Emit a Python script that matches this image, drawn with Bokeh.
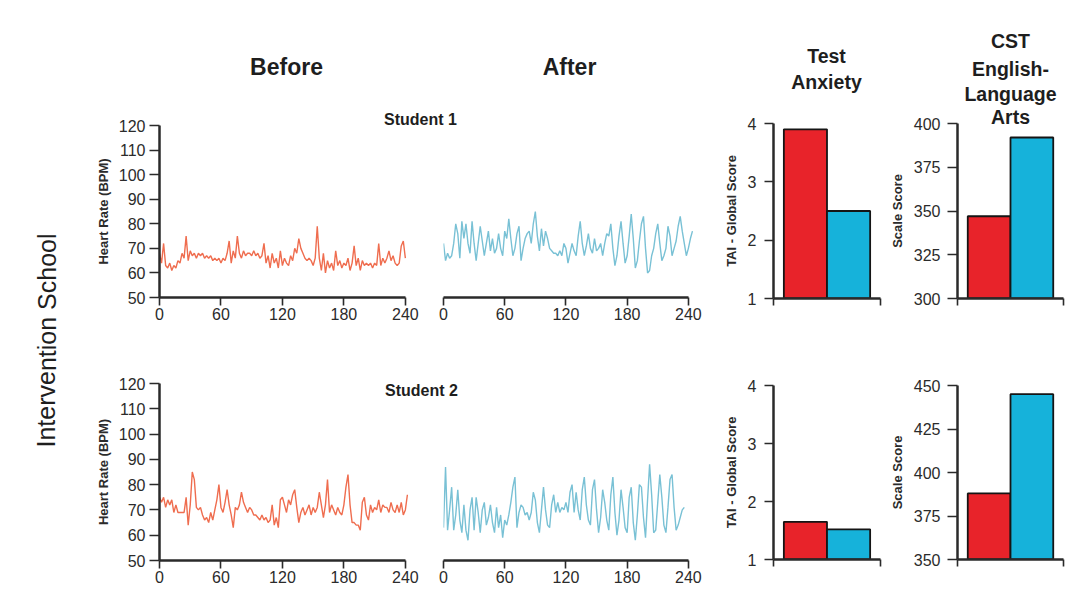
from bokeh.plotting import figure
from bokeh.models import Range1d, FixedTicker, Label, GridBox, Spacer
from bokeh.embed import file_html
from bokeh.resources import INLINE

FONT = "Liberation Sans"
TXT = "#1e1e1e"
AXC = "#2a2a2a"

# ---------------- data ----------------
sample_step = 2  # seconds between readings
x_ticks = [0, 60, 120, 180, 240]
hr_ticks = [50, 60, 70, 80, 90, 100, 110, 120]

before1 = [68, 64, 72, 63, 62, 64, 61, 63, 62, 65, 64, 68, 66, 75, 65, 69, 67, 68, 66, 68,
           67, 68, 66, 67, 66, 67, 65, 66, 65, 66, 64, 66, 65, 68, 73, 64, 69, 66, 75, 68,
           66, 69, 67, 68, 68, 67, 69, 67, 68, 66, 67, 72, 64, 67, 62, 68, 64, 66, 62, 69,
           63, 66, 64, 63, 67, 65, 70, 68, 74, 70, 68, 66, 65, 66, 65, 63, 66, 79, 66, 61,
           68, 60, 65, 62, 64, 61, 69, 63, 65, 62, 64, 63, 66, 61, 64, 71, 63, 66, 61, 65,
           63, 64, 63, 64, 62, 64, 63, 72, 63, 66, 64, 66, 69, 65, 67, 64, 63, 64, 71, 73,
           66]
after1 = [72, 65, 68, 66, 67, 72, 80, 76, 66, 81, 74, 80, 72, 68, 81, 72, 65, 72, 79, 73,
          67, 72, 77, 69, 74, 68, 70, 76, 70, 67, 77, 74, 82, 74, 67, 70, 76, 79, 65, 70,
          74, 76, 77, 72, 80, 85, 75, 69, 78, 71, 77, 74, 70, 69, 68, 68, 67, 69, 67, 72,
          70, 64, 68, 72, 69, 67, 75, 81, 72, 67, 71, 76, 70, 68, 74, 69, 70, 72, 67, 72,
          76, 75, 80, 70, 63, 67, 75, 81, 72, 64, 67, 75, 84, 74, 62, 65, 73, 80, 83, 70,
          60, 61, 67, 70, 76, 80, 72, 65, 67, 70, 79, 75, 67, 70, 73, 79, 83, 77, 72, 67,
          70, 74, 77]
before2 = [75, 73, 75, 71, 74, 72, 74, 69, 72, 69, 69, 69, 69, 75, 64, 72, 85, 82, 71, 70,
           71, 68, 66, 67, 65, 69, 66, 70, 74, 80, 71, 69, 73, 78, 72, 68, 63, 71, 70, 72,
           77, 73, 71, 69, 71, 70, 68, 68, 67, 66, 68, 66, 67, 65, 66, 72, 64, 67, 63, 74,
           75, 72, 69, 74, 72, 76, 78, 71, 65, 69, 71, 68, 70, 72, 68, 71, 69, 71, 77, 72,
           67, 72, 82, 69, 72, 70, 68, 71, 69, 68, 72, 79, 84, 72, 65, 65, 64, 64, 62, 73,
           75, 68, 66, 72, 69, 71, 70, 74, 69, 72, 71, 71, 69, 73, 70, 69, 72, 69, 73, 68,
           70, 76]
after2 = [63, 87, 62, 70, 79, 62, 68, 78, 66, 61, 72, 62, 58, 70, 75, 62, 75, 69, 61, 70,
          73, 64, 67, 72, 65, 61, 71, 63, 68, 59, 66, 64, 68, 73, 79, 83, 63, 69, 72, 71,
          68, 69, 66, 69, 77, 74, 65, 61, 70, 79, 70, 64, 63, 72, 76, 69, 73, 69, 71, 70,
          73, 69, 77, 80, 69, 77, 70, 66, 78, 83, 72, 66, 64, 78, 82, 70, 61, 67, 78, 73,
          66, 62, 76, 83, 69, 60, 66, 78, 71, 63, 61, 75, 79, 65, 58, 68, 80, 79, 67, 59,
          74, 88, 76, 61, 62, 73, 84, 75, 64, 61, 71, 82, 84, 71, 62, 64, 67, 70, 71]

groups = ["Before", "After"]
bar_colors = ["#E8232A", "#16B2DA"]
anxiety1 = [3.9, 2.5]
cst1 = [347, 392]
anxiety2 = [1.65, 1.52]
cst2 = [388, 445]
ta_ticks = [1, 2, 3, 4]
cst1_ticks = [300, 325, 350, 375, 400]
cst2_ticks = [350, 375, 400, 425, 450]


def times(series):
    return [i * sample_step for i in range(len(series))]


def base_fig(w, h, xr, yr, bl, br, bt, bb, show_y=True):
    p = figure(width=w, height=h, x_range=xr, y_range=yr,
               output_backend="svg", toolbar_location=None,
               min_border_left=bl, min_border_right=br,
               min_border_top=bt, min_border_bottom=bb,
               y_axis_location="left" if show_y else None,
               frame_align=False)
    p.grid.visible = False
    p.outline_line_color = None
    p.background_fill_color = "white"
    p.border_fill_color = "white"
    return p


def style_axis(ax, tick_out, standoff, font_size, label_standoff=6):
    ax.axis_line_color = AXC
    ax.axis_line_width = 2.5
    ax.major_tick_line_color = AXC
    ax.major_tick_line_width = 1.6
    ax.major_tick_out = tick_out
    ax.major_tick_in = 0
    ax.minor_tick_line_color = None
    ax.major_label_standoff = standoff
    ax.major_label_text_font = FONT
    ax.major_label_text_font_size = font_size
    ax.major_label_text_color = "#2b2b2b"
    ax.axis_label_text_font = FONT
    ax.axis_label_text_font_style = "bold"
    ax.axis_label_text_font_size = "13px"
    ax.axis_label_text_color = "#2b2b2b"
    ax.axis_label_standoff = label_standoff


def line_panel(series, color, w, h, bl, br, bt, bb, show_y):
    p = base_fig(w, h, Range1d(0, 246), Range1d(50, 120), bl, br, bt, bb, show_y)
    p.line(times(series), series, line_color=color, line_width=1.4)
    xa = p.xaxis[0]
    xa.ticker = FixedTicker(ticks=x_ticks)
    xa.bounds = (0, 240)
    style_axis(xa, 8, 2, "16px")
    if show_y:
        ya = p.yaxis[0]
        ya.ticker = FixedTicker(ticks=hr_ticks)
        ya.axis_label = "Heart Rate (BPM)"
        style_axis(ya, 10, 4, "16px", label_standoff=5)
    return p


def bar_panel(vals, y0, y1, yticks, ylabel, w, h, bl, br, bt, bb, tick_out, standoff):
    p = base_fig(w, h, Range1d(-0.24, 2.24), Range1d(y0, y1), bl, br, bt, bb, True)
    xs = [i + 0.5 for i in range(len(groups))]
    p.vbar(x=xs, top=vals, bottom=y0, width=1.0, fill_color=bar_colors,
           line_color="#151515", line_width=1.8)
    xa = p.xaxis[0]
    style_axis(xa, 7, 0, "16px")
    xa.ticker = FixedTicker(ticks=[], minor_ticks=[-0.24, 2.24])
    xa.minor_tick_line_color = AXC
    xa.minor_tick_line_width = 1.6
    xa.minor_tick_out = 7
    xa.minor_tick_in = 0
    ya = p.yaxis[0]
    ya.ticker = FixedTicker(ticks=yticks)
    ya.axis_label = ylabel
    style_axis(ya, tick_out, standoff, "16px")
    return p


BEFORE_C = "#EF6D4F"
AFTER_C = "#79C1D5"

# columns: 0-85 spacer, 85-425 before, 425-720 after, 720-885 anxiety, 885-1083 CST
# row 1 (page y 0 -> 340), row 2 (340 -> 612)
b1 = line_panel(before1, BEFORE_C, 340, 340, 74, 14, 125, 43, True)
a1 = line_panel(after1, AFTER_C, 295, 340, 18, 26, 125, 43, False)
t1 = bar_panel(anxiety1, 1, 4, ta_ticks, "TAI - Global Score", 165, 340, 53, 5, 123, 42, 9, 8)
c1 = bar_panel(cst1, 300, 400, cst1_ticks, "Scale Score", 198, 340, 72, 20, 123, 42, 10, 7)

b2 = line_panel(before2, BEFORE_C, 340, 272, 74, 14, 43, 52, True)
a2 = line_panel(after2, AFTER_C, 295, 272, 18, 26, 43, 52, False)
t2 = bar_panel(anxiety2, 1, 4, ta_ticks, "TAI - Global Score", 165, 272, 53, 5, 45, 53, 9, 8)
c2 = bar_panel(cst2, 350, 450, cst2_ticks, "Scale Score", 198, 272, 72, 20, 45, 53, 10, 7)

# ---------------- overlay with free text (page coordinates) ----------------
W, H = 1083, 612
ov = figure(width=W, height=H, x_range=Range1d(0, W), y_range=Range1d(H, 0),
            output_backend="svg", toolbar_location=None, min_border=0,
            x_axis_location=None, y_axis_location=None, frame_align=False)
ov.grid.visible = False
ov.outline_line_color = None
ov.background_fill_alpha = 0
ov.border_fill_alpha = 0


def add_text(x, y, txt, size, bold=True, angle=0.0):
    ov.add_layout(Label(x=x, y=y, text=txt, text_font=FONT, text_font_size=size,
                        text_font_style="bold" if bold else "normal", text_color=TXT,
                        text_align="center", text_baseline="middle", angle=angle))


add_text(286, 66, "Before", "23px")
add_text(569, 66, "After", "23px")
add_text(420, 119, "Student 1", "16px")
add_text(421, 390, "Student 2", "16px")
add_text(826, 55, "Test", "19.5px")
add_text(826, 81, "Anxiety", "19.5px")
add_text(1010, 40, "CST", "19.5px")
add_text(1010, 68, "English-", "19.5px")
add_text(1010, 93, "Language", "19.5px")
add_text(1010, 116, "Arts", "19.5px")
add_text(46, 340, "Intervention School", "25px", bold=False, angle=1.5707963)

grid = GridBox(children=[
    (Spacer(width=85, height=340), 0, 0),
    (b1, 0, 1), (a1, 0, 2), (t1, 0, 3), (c1, 0, 4),
    (Spacer(width=85, height=272), 1, 0),
    (b2, 1, 1), (a2, 1, 2), (t2, 1, 3), (c2, 1, 4),
    (ov, 0, 0, 2, 5),
], spacing=0)

open("out.html", "w").write(file_html(grid, INLINE))
